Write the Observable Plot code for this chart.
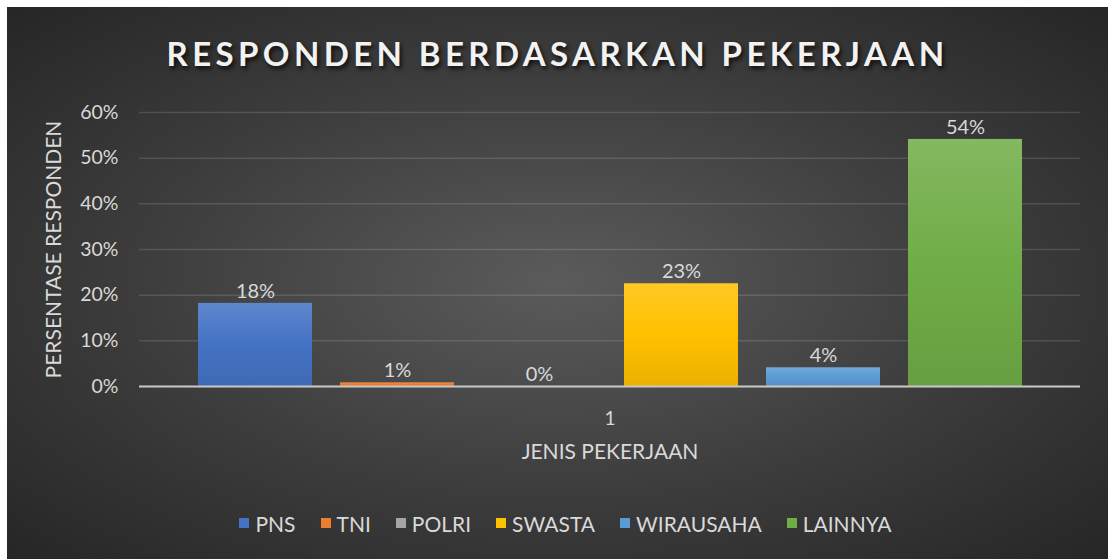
<!DOCTYPE html>
<html>
<head>
<meta charset="utf-8">
<script src="https://cdn.jsdelivr.net/npm/d3@7"></script>
<script src="https://cdn.jsdelivr.net/npm/@observablehq/plot@0.6"></script>
<style>
  body { margin: 0; background: #ffffff; }
  #chart {
    position: absolute; left: 7px; top: 7px; width: 1101px; height: 552px;
    background: radial-gradient(ellipse at 50% 50%, #5b5b5b 0%, #3c3c3c 55%, #262626 100%);
    font-family: Lato, "Open Sans", sans-serif; overflow: hidden;
  }
  #title {
    position: absolute; left: 0; top: 30px; width: 100%; text-align: center;
    font-family: Lato, sans-serif; font-weight: 700; font-size: 33px; line-height: 33px;
    letter-spacing: 4.4px; color: #f2f2f2;
    text-shadow: 2px 3px 4px rgba(0,0,0,0.75);
  }
  #plotwrap { position: absolute; left: 0; top: 95px; }
  #legendwrap {
    position: absolute; left: 8px; top: 503px; width: 100%; height: 26px;
    display: flex; justify-content: center; align-items: center;
  }
  .lg-swatches, .lg-swatches-wrap { font-family: Lato, sans-serif !important; font-size: 21px !important; color: #d9d9d9 !important; margin: 0 !important; min-height: 0 !important; display: flex !important; align-items: center !important; }
  .lg-swatch { margin-right: 25px !important; }
  .lg-swatch:last-child { margin-right: 0 !important; }
  .lg-swatch > svg { margin-right: 6px !important; }
</style>
</head>
<body>
<div id="chart">
  <div id="title">RESPONDEN BERDASARKAN PEKERJAAN</div>
  <div id="plotwrap"></div>
  <div id="legendwrap"></div>
</div>
<script>
const categories = ["PNS", "TNI", "POLRI", "SWASTA", "WIRAUSAHA", "LAINNYA"];
const values = [0.182, 0.008, 0, 0.225, 0.041, 0.541];
const colors = ["#4472C4", "#ED7D31", "#A5A5A5", "#FFC000", "#5B9BD5", "#70AD47"];
const yTicks = [0, 0.1, 0.2, 0.3, 0.4, 0.5, 0.6];
const groupLabel = "1";
const yTitle = "PERSENTASE RESPONDEN";
const xTitle = "JENIS PEKERJAAN";

const data = categories.map((c, i) => ({cat: c, value: values[i], group: groupLabel}));
const pct = d => Math.round(d * 100) + "%";

const plot = Plot.plot({
  width: 1101,
  height: 375,
  marginTop: 10,
  marginBottom: 91,
  marginLeft: 132,
  marginRight: 28,
  style: {background: "transparent", color: "#d9d9d9", fontFamily: "Lato, sans-serif", fontSize: "19px", overflow: "visible"},
  fx: {domain: [groupLabel], padding: 0},
  x: {domain: categories, paddingInner: 0.2, paddingOuter: 0.41, axis: null},
  y: {domain: [0, 0.6]},
  color: {domain: categories, range: colors},
  marks: [
    Plot.gridY(yTicks, {stroke: "#ffffff", strokeOpacity: 0.13, strokeWidth: 1.5}),
    Plot.barY(data, {fx: "group", x: "cat", y: "value", fill: "cat"}),
    Plot.ruleY([0], {stroke: "#c8c8c8", strokeWidth: 2}),
    Plot.text(data, {fx: "group", x: "cat", y: "value", text: d => pct(d.value), dy: -12, fill: "#d9d9d9", fontSize: 20}),
    Plot.axisY({ticks: yTicks, tickSize: 0, tickPadding: 21, tickFormat: pct, fontSize: 19.5, fill: "#d9d9d9",
      label: yTitle, labelAnchor: "center", labelOffset: 93, labelArrow: "none"}),
    Plot.axisFx({anchor: "bottom", tickSize: 0, tickPadding: 25, fontSize: 19, fill: "#d9d9d9",
      label: xTitle, labelAnchor: "center", labelOffset: 72, labelArrow: "none"})
  ]
});

// gradient fills for bars (derived from the same colour list)
const svgNS = "http://www.w3.org/2000/svg";
const defs = document.createElementNS(svgNS, "defs");
colors.forEach((c, i) => {
  const g = document.createElementNS(svgNS, "linearGradient");
  g.setAttribute("id", "barGrad" + i);
  g.setAttribute("x1", "0"); g.setAttribute("y1", "0"); g.setAttribute("x2", "0"); g.setAttribute("y2", "1");
  const s1 = document.createElementNS(svgNS, "stop");
  s1.setAttribute("offset", "0"); s1.setAttribute("stop-color", d3.interpolateRgb(c, "#ffffff")(0.14));
  const s2 = document.createElementNS(svgNS, "stop");
  s2.setAttribute("offset", "0.5"); s2.setAttribute("stop-color", c);
  const s3 = document.createElementNS(svgNS, "stop");
  s3.setAttribute("offset", "1"); s3.setAttribute("stop-color", d3.interpolateRgb(c, "#000000")(0.08));
  g.appendChild(s1); g.appendChild(s2); g.appendChild(s3);
  defs.appendChild(g);
});
plot.insertBefore(defs, plot.firstChild);
plot.querySelectorAll('g[aria-label="bar"] rect').forEach(r => {
  const f = (r.getAttribute("fill") || "").toLowerCase();
  const idx = colors.findIndex(c => c.toLowerCase() === f);
  if (idx >= 0) r.setAttribute("fill", "url(#barGrad" + idx + ")");
});
// axis title font size
plot.querySelectorAll('g[aria-label="y-axis label"] text, g[aria-label="fx-axis label"] text').forEach(t => t.setAttribute("font-size", "21"));

document.getElementById("plotwrap").appendChild(plot);

const legend = Plot.legend({
  legend: "swatches",
  color: {domain: categories, range: colors},
  swatchSize: 10,
  className: "lg"
});
document.getElementById("legendwrap").appendChild(legend);
</script>
</body>
</html>
